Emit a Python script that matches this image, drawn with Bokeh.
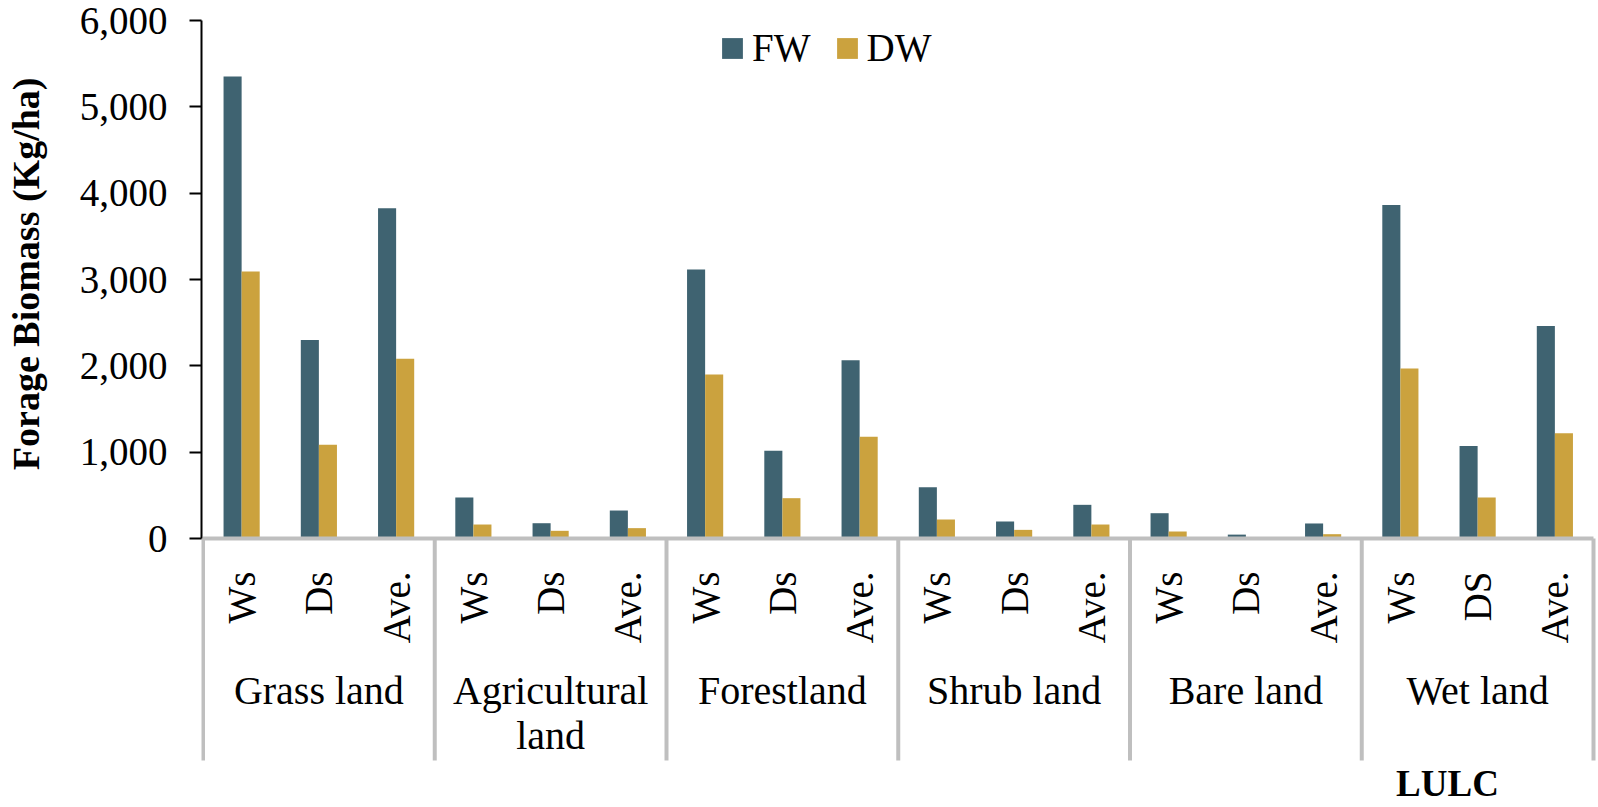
import math
from bokeh.plotting import figure
from bokeh.models import (Range1d, FixedTicker, NumeralTickFormatter, Legend,
                          LegendItem, Title, ColumnDataSource)
from bokeh.core.properties import value
from bokeh.embed import file_html
from bokeh.resources import INLINE

# ---------------- data ----------------
groups = ["Grass land", "Agricultural\nland", "Forestland", "Shrub land", "Bare land", "Wet land"]
subgroups = ["Ws", "Ds", "Ave.",
             "Ws", "Ds", "Ave.",
             "Ws", "Ds", "Ave.",
             "Ws", "Ds", "Ave.",
             "Ws", "Ds", "Ave.",
             "Ws", "DS", "Ave."]
fw = [5350, 2300, 3825,
      475, 177, 324,
      3117, 1016, 2066,
      595, 197, 390,
      293, 45, 174,
      3862, 1070, 2460]
dw = [3094, 1085, 2082,
      162, 89, 120,
      1900, 467, 1178,
      220, 100, 162,
      81, 10, 50,
      1970, 475, 1220]
y_ticks = [0, 1000, 2000, 3000, 4000, 5000, 6000]
series = ["FW", "DW"]

# ---------------- layout helpers ----------------
FONT = "Liberation Serif"
FW_COLOR = "#3f6371"
DW_COLOR = "#cba23e"
SEP_COLOR = "#bfbfbf"

W, H = 1598, 807
LEFT = 201
k = 518 / 6000.0            # px per unit
PAGE0 = 538                 # page y of value 0
SLOT = 77.25                # px per sub-category slot
X0 = 202.5                  # page x of the first boundary


def yv(page_y):
    return -(page_y - PAGE0) / k


def xv(page_x):
    return (page_x - X0) / SLOT


y_top = 6000 + 20 / k
y_bot = yv(H)

n_slots = len(subgroups)
slot_centers = [i + 0.5 for i in range(n_slots)]
bw = 0.234
bounds_x = [3 * i for i in range(len(groups) + 1)]
group_centers = [3 * i + 1.5 for i in range(len(groups))]
group_line1 = [g.split("\n")[0] for g in groups]
group_line2 = [g.split("\n")[1] if "\n" in g else "" for g in groups]

p = figure(width=W, height=H, x_range=Range1d(xv(LEFT), xv(W)),
           y_range=Range1d(y_bot, y_top), output_backend="svg",
           toolbar_location=None, x_axis_type=None,
           min_border_left=LEFT, min_border_right=0, min_border_top=0,
           min_border_bottom=0)
p.ygrid.visible = False
p.outline_line_color = None
p.background_fill_color = "white"

# y axis
ax = p.yaxis[0]
ax.ticker = FixedTicker(ticks=y_ticks)
ax.bounds = (0, 6000)
ax.formatter = NumeralTickFormatter(format="0,0")
ax.major_label_text_font = FONT
ax.major_label_text_font_size = "39px"
ax.major_label_text_color = "black"
ax.axis_line_color = "black"
ax.axis_line_width = 2
ax.major_tick_line_color = "black"
ax.major_tick_line_width = 2
ax.major_tick_in = 0
ax.major_tick_out = 12
ax.minor_tick_line_color = None
ax.major_label_standoff = 22
# blank spacer label to push the title outward
ax.axis_label = " "
ax.axis_label_text_font_size = "18px"
ax.axis_label_standoff = 4

p.add_layout(Title(text="Forage Biomass (Kg/ha)", text_font=FONT,
                   text_font_size="38px", text_font_style="bold",
                   text_color="black", align="right", offset=77,
                   standoff=5), "left")

# bars
src = ColumnDataSource(dict(
    x_fw=[c - bw / 2 for c in slot_centers],
    x_dw=[c + bw / 2 for c in slot_centers],
    fw=fw, dw=dw))
r_fw = p.vbar(x="x_fw", top="fw", bottom=0, width=bw, source=src,
              fill_color=FW_COLOR, line_color=None)
r_dw = p.vbar(x="x_dw", top="dw", bottom=0, width=bw, source=src,
              fill_color=DW_COLOR, line_color=None)

# category axis drawing: separators and baseline
p.segment(x0=bounds_x, y0=[0] * len(bounds_x), x1=bounds_x,
          y1=[yv(760)] * len(bounds_x), line_color=SEP_COLOR, line_width=4)
p.segment(x0=[0], y0=[0], x1=[n_slots], y1=[0], line_color=SEP_COLOR,
          line_width=4)

# sub labels (rotated)
p.text(x=slot_centers, y=[yv(571)] * n_slots, text=subgroups,
       angle=math.pi / 2, text_align="right", text_baseline="middle",
       text_font=value(FONT), text_font_size="39px", text_color="black")

# group labels
p.text(x=group_centers, y=[yv(690)] * len(groups), text=group_line1,
       text_align="center", text_baseline="alphabetic",
       text_font=value(FONT), text_font_size="40px", text_color="black")
p.text(x=group_centers, y=[yv(735)] * len(groups), text=group_line2,
       text_align="center", text_baseline="alphabetic",
       text_font=value(FONT), text_font_size="40px", text_color="black")

# LULC
p.text(x=[xv(1447)], y=[yv(783)], text=["LULC"],
       text_align="center", text_baseline="alphabetic",
       text_font=value(FONT), text_font_size="37px",
       text_font_style="bold", text_color="black")

legend = Legend(items=[LegendItem(label=series[0], renderers=[r_fw]),
                       LegendItem(label=series[1], renderers=[r_dw])],
                orientation="horizontal", location=(518, 737),
                glyph_width=26, glyph_height=26, label_standoff=7,
                spacing=23, padding=0, margin=0, border_line_color=None,
                background_fill_alpha=0, label_text_font=FONT,
                label_text_font_size="39px", label_text_color="black")
p.add_layout(legend)

open("out.html", "w").write(file_html(p, INLINE))
